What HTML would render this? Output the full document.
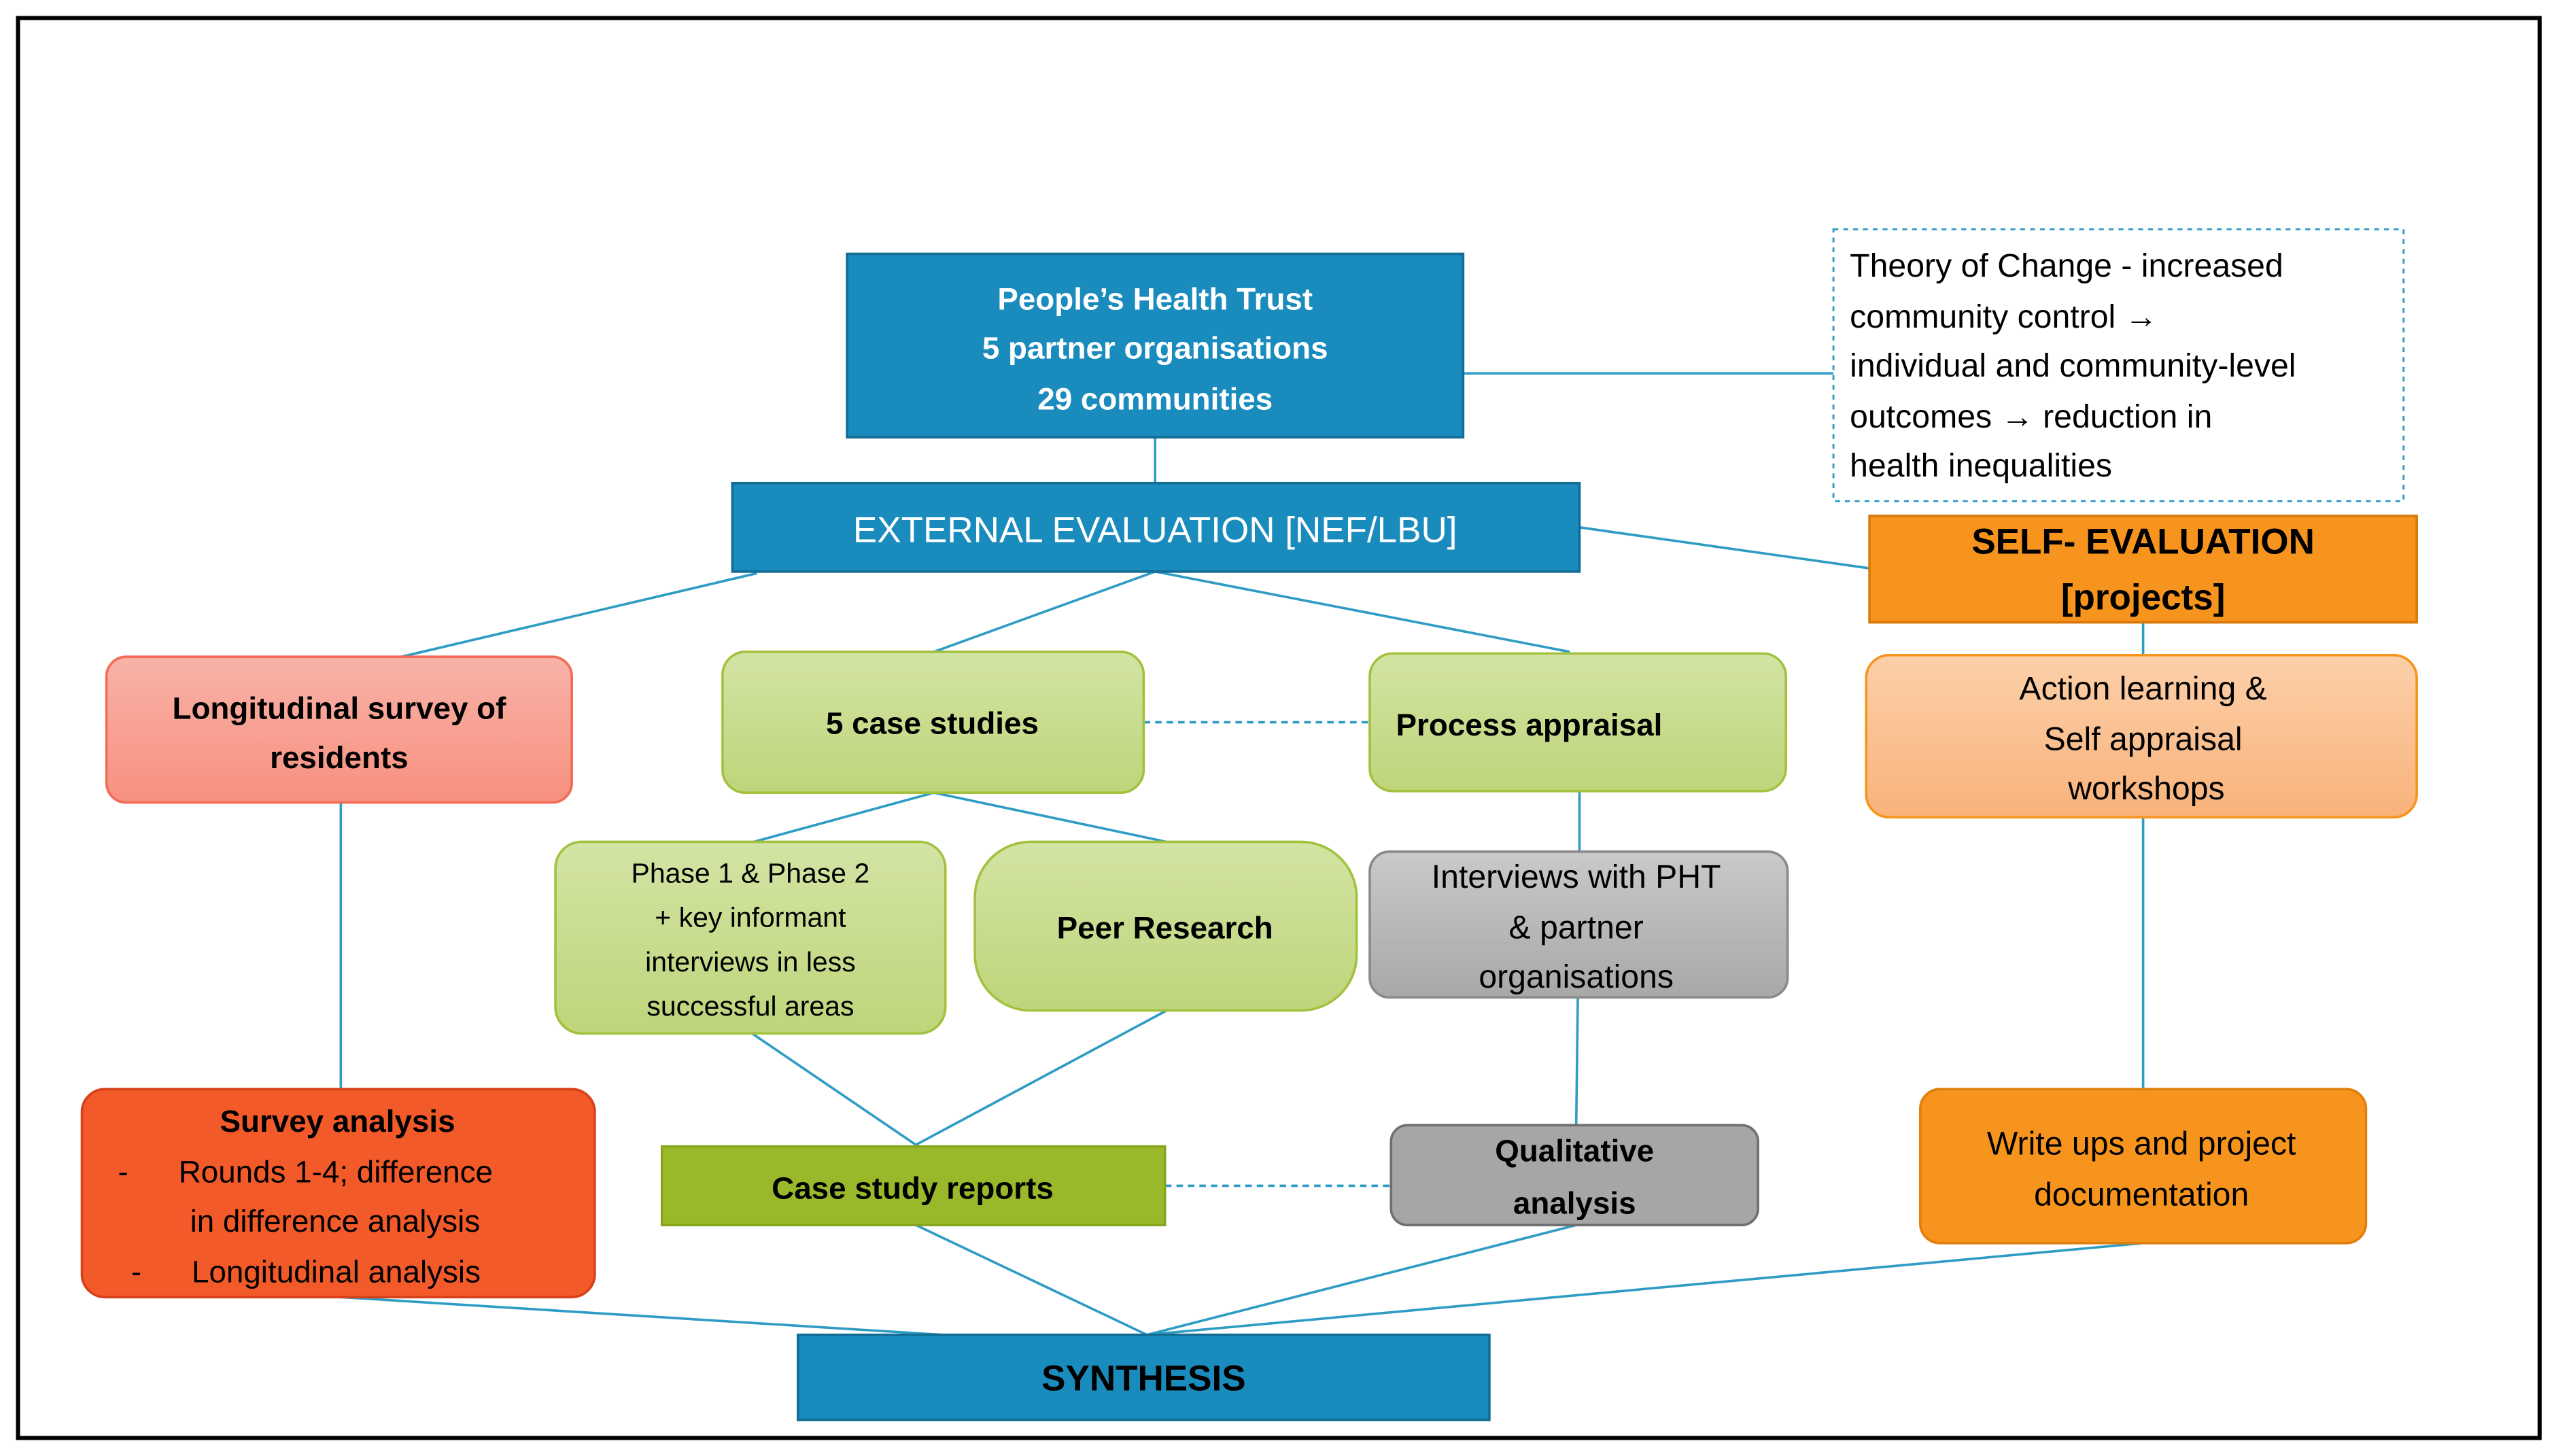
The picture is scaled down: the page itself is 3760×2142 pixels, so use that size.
<!DOCTYPE html>
<html><head><meta charset="utf-8"><style>
html,body{margin:0;padding:0;background:#fff;}
svg{display:block;}
text{font-family:"Liberation Sans",sans-serif;}
</style></head><body>
<svg width="3760" height="2142" viewBox="0 0 1560 889" preserveAspectRatio="none" xmlns="http://www.w3.org/2000/svg">
<defs>
<linearGradient id="gG" x1="0" y1="0" x2="0" y2="1"><stop offset="0" stop-color="#d3e4a4"/><stop offset="1" stop-color="#bed57a"/></linearGradient>
<linearGradient id="gP" x1="0" y1="0" x2="0" y2="1"><stop offset="0" stop-color="#f9b3a8"/><stop offset="1" stop-color="#f7907f"/></linearGradient>
<linearGradient id="gO" x1="0" y1="0" x2="0" y2="1"><stop offset="0" stop-color="#fcd0aa"/><stop offset="1" stop-color="#f9b27a"/></linearGradient>
<linearGradient id="gY" x1="0" y1="0" x2="0" y2="1"><stop offset="0" stop-color="#c9c9c9"/><stop offset="1" stop-color="#a8a8a8"/></linearGradient>
</defs>
<rect x="0" y="0" width="1560" height="889" fill="#fff"/>
<rect x="11" y="11" width="1539" height="867" fill="none" stroke="#000" stroke-width="2.5"/>
<g stroke="#2f9cc4" stroke-width="1.5" fill="none">
<line x1="893" y1="228" x2="1119" y2="228"/>
<line x1="705" y1="267" x2="705" y2="295"/>
<line x1="964" y1="322" x2="1141" y2="347"/>
<line x1="1308" y1="380" x2="1308" y2="400"/>
<line x1="1308" y1="499" x2="1308" y2="665"/>
<line x1="462" y1="350" x2="245" y2="401"/>
<line x1="705" y1="349" x2="570" y2="398"/>
<line x1="705" y1="349" x2="958" y2="398"/>
<line x1="208" y1="490" x2="208" y2="665"/>
<line x1="570" y1="484" x2="460" y2="514"/>
<line x1="570" y1="484" x2="712" y2="514"/>
<line x1="964" y1="483" x2="964" y2="520"/>
<line x1="963" y1="609" x2="962" y2="687"/>
<line x1="459" y1="631" x2="559" y2="699"/>
<line x1="712" y1="617" x2="559" y2="699"/>
<line x1="208" y1="792" x2="575" y2="815"/>
<line x1="559" y1="748" x2="700" y2="815"/>
<line x1="962" y1="748" x2="700" y2="815"/>
<line x1="1308" y1="759" x2="700" y2="815"/>
<line x1="698" y1="441" x2="836" y2="441" stroke-dasharray="4,3"/>
<line x1="711" y1="724" x2="849" y2="724" stroke-dasharray="4,3"/>
</g>
<!-- PHT -->
<rect x="517" y="155" width="376" height="112" fill="#1a8bbd" stroke="#136c94" stroke-width="1.5"/>
<g fill="#fff" font-weight="bold" font-size="19" text-anchor="middle">
<text x="705" y="189">People’s Health Trust</text>
<text x="705" y="219">5 partner organisations</text>
<text x="705" y="250">29 communities</text>
</g>
<!-- Theory -->
<rect x="1119" y="140" width="348" height="166" fill="#fff" stroke="#2f9cc4" stroke-width="1.2" stroke-dasharray="3,3"/>
<g fill="#000" font-size="20">
<text x="1129" y="169">Theory of Change -  increased</text>
<text x="1129" y="200">community control  →</text>
<text x="1129" y="230">individual and community-level</text>
<text x="1129" y="261">outcomes → reduction in</text>
<text x="1129" y="291">health inequalities</text>
</g>
<!-- External -->
<rect x="447" y="295" width="517" height="54" fill="#1a8bbd" stroke="#136c94" stroke-width="1.5"/>
<text x="705" y="331" fill="#fff" font-size="22" text-anchor="middle">EXTERNAL EVALUATION [NEF/LBU]</text>
<!-- Self eval -->
<rect x="1141" y="315" width="334" height="65" fill="#f7941d" stroke="#d9780a" stroke-width="1.5"/>
<g font-weight="bold" font-size="22" text-anchor="middle" fill="#000">
<text x="1308" y="338">SELF- EVALUATION</text>
<text x="1308" y="372">[projects]</text>
</g>
<!-- Action learning -->
<rect x="1139" y="400" width="336" height="99" rx="14" fill="url(#gO)" stroke="#f7941d" stroke-width="1.5"/>
<g font-size="20" text-anchor="middle" fill="#000">
<text x="1308" y="427">Action learning &amp;</text>
<text x="1308" y="458">Self appraisal</text>
<text x="1310" y="488">workshops</text>
</g>
<!-- Write ups -->
<rect x="1172" y="665" width="272" height="94" rx="12" fill="#f7941d" stroke="#e07f0c" stroke-width="1.5"/>
<g font-size="20" text-anchor="middle" fill="#000">
<text x="1307" y="705">Write ups and project</text>
<text x="1307" y="736">documentation</text>
</g>
<!-- Longitudinal -->
<rect x="65" y="401" width="284" height="89" rx="12" fill="url(#gP)" stroke="#f26b55" stroke-width="1.5"/>
<g font-weight="bold" font-size="19" text-anchor="middle" fill="#000">
<text x="207" y="439">Longitudinal  survey of</text>
<text x="207" y="469">residents</text>
</g>
<!-- Survey analysis -->
<rect x="50" y="665" width="313" height="127" rx="14" fill="#f25a2a" stroke="#d8401a" stroke-width="1.5"/>
<g font-size="19" fill="#000">
<text x="206" y="691" font-weight="bold" text-anchor="middle">Survey analysis</text>
<text x="72" y="722">-</text><text x="109" y="722">Rounds 1-4; difference</text>
<text x="116" y="752">in difference  analysis</text>
<text x="80" y="783">-</text><text x="117" y="783">Longitudinal analysis</text>
</g>
<!-- 5 case studies -->
<rect x="441" y="398" width="257" height="86" rx="14" fill="url(#gG)" stroke="#a3c13e" stroke-width="1.5"/>
<text x="569" y="448" font-weight="bold" font-size="19" text-anchor="middle" fill="#000">5 case studies</text>
<!-- Process appraisal -->
<rect x="836" y="399" width="254" height="84" rx="14" fill="url(#gG)" stroke="#a3c13e" stroke-width="1.5"/>
<text x="852" y="449" font-weight="bold" font-size="19" fill="#000">Process appraisal</text>
<!-- Phase -->
<rect x="339" y="514" width="238" height="117" rx="16" fill="url(#gG)" stroke="#a3c13e" stroke-width="1.5"/>
<g font-size="17" text-anchor="middle" fill="#000">
<text x="458" y="539">Phase 1 &amp; Phase 2</text>
<text x="458" y="566">+ key informant</text>
<text x="458" y="593">interviews in less</text>
<text x="458" y="620">successful areas</text>
</g>
<!-- Peer -->
<rect x="595" y="514" width="233" height="103" rx="34" fill="url(#gG)" stroke="#a3c13e" stroke-width="1.5"/>
<text x="711" y="573" font-weight="bold" font-size="19" text-anchor="middle" fill="#000">Peer Research</text>
<!-- Interviews -->
<rect x="836" y="520" width="255" height="89" rx="12" fill="url(#gY)" stroke="#8a8a8a" stroke-width="1.5"/>
<g font-size="20" text-anchor="middle" fill="#000">
<text x="962" y="542">Interviews  with PHT</text>
<text x="962" y="573">&amp; partner</text>
<text x="962" y="603">organisations</text>
</g>
<!-- Qualitative -->
<rect x="849" y="687" width="224" height="61" rx="10" fill="#a6a6a6" stroke="#6f6f6f" stroke-width="1.5"/>
<g font-weight="bold" font-size="19" text-anchor="middle" fill="#000">
<text x="961" y="709">Qualitative</text>
<text x="961" y="741">analysis</text>
</g>
<!-- Case study reports -->
<rect x="404" y="700" width="307" height="48" fill="#9ab92a" stroke="#86a41c" stroke-width="1.5"/>
<text x="557" y="732" font-weight="bold" font-size="19" text-anchor="middle" fill="#000">Case study reports</text>
<!-- Synthesis -->
<rect x="487" y="815" width="422" height="52" fill="#1a8bbd" stroke="#136c94" stroke-width="1.5"/>
<text x="698" y="849" font-weight="bold" font-size="22" text-anchor="middle" fill="#000">SYNTHESIS</text>
</svg>
</body></html>
